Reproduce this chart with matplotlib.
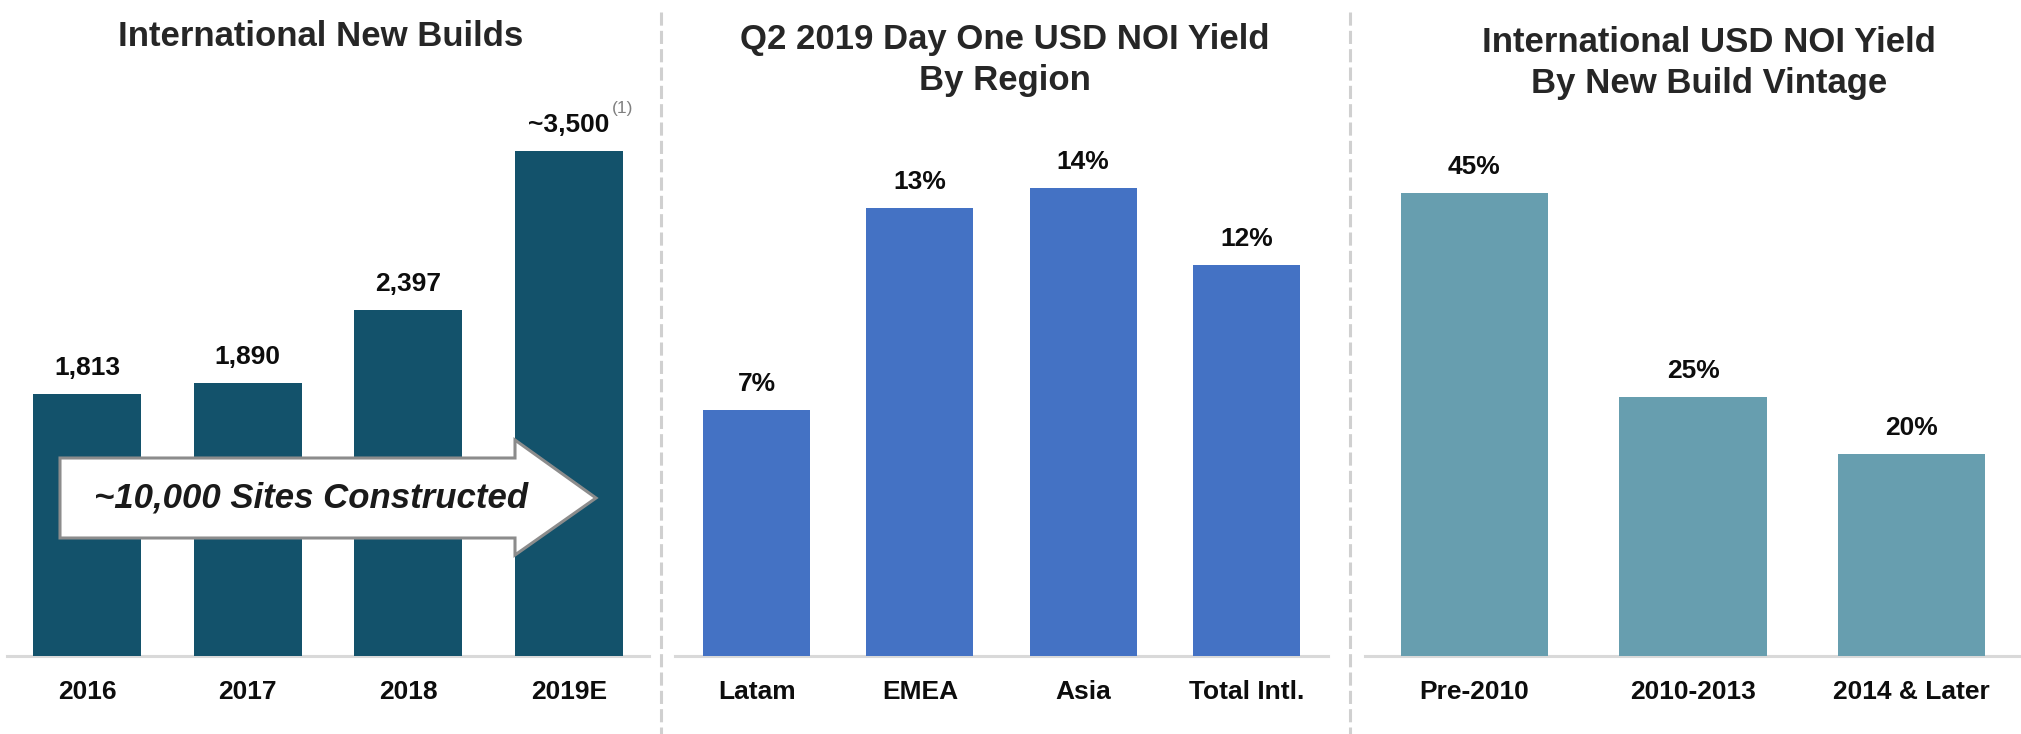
import matplotlib
matplotlib.use("Agg")
import matplotlib.pyplot as plt
from matplotlib.patches import Polygon
from matplotlib.lines import Line2D

plt.rcParams['font.family'] = ['Liberation Sans', 'DejaVu Sans']

# data
years = ["2016", "2017", "2018", "2019E"]
new_builds = [1813, 1890, 2397, 3500]
build_labels = ["1,813", "1,890", "2,397", "~3,500"]

regions = ["Latam", "EMEA", "Asia", "Total Intl."]
region_yield = [7.3, 13.3, 13.9, 11.6]
region_labels = ["7%", "13%", "14%", "12%"]

vintages = ["Pre-2010", "2010-2013", "2014 & Later"]
vintage_yield = [45.0, 25.2, 19.6]
vintage_labels = ["45%", "25%", "20%"]

W, H = 2021, 734
fig = plt.figure(figsize=(W / 100, H / 100), dpi=100)

base_px, top_px = 656, 100


def fx(x):
    return x / W


def fy(y):
    return 1 - y / H


panels = [
    (7, 649, years, new_builds, build_labels, "#13526b", 3850, 0.67),
    (675, 1328, regions, region_yield, region_labels, "#4472c4", 16.5, 0.655),
    (1365, 2021, vintages, vintage_yield, vintage_labels, "#679eaf", 54.0, 0.675),
]

axes = []
for x0, x1, cats, vals, labs, col, ymax, bw in panels:
    ax = fig.add_axes([fx(x0), fy(base_px), (x1 - x0) / W, (base_px - top_px) / H])
    pos = list(range(len(cats)))
    ax.bar(pos, vals, width=bw, color=col, zorder=2)
    ax.set_xlim(-0.5, len(cats) - 0.5)
    ax.set_ylim(0, ymax)
    for s in ["top", "left", "right"]:
        ax.spines[s].set_visible(False)
    ax.spines["bottom"].set_color("#d9d9d9")
    ax.spines["bottom"].set_linewidth(2.2)
    ax.spines["bottom"].set_zorder(1)
    ax.set_yticks([])
    ax.set_xticks(pos, cats)
    ax.tick_params(axis="x", length=0, pad=17, labelsize=19, labelcolor="#0d0d0d")
    for t in ax.get_xticklabels():
        t.set_fontweight("bold")
    for p, v, lab in zip(pos, vals, labs):
        ax.annotate(lab, (p, v), xytext=(0, 19), textcoords="offset pixels",
                    ha="center", va="baseline", fontsize=19, fontweight="bold",
                    color="#0d0d0d")
    ax.patch.set_alpha(0)
    axes.append(ax)

# footnote marker on the estimate
axes[0].annotate("(1)", (3, new_builds[3]), xytext=(43, 42), textcoords="offset pixels",
                 ha="left", va="center", fontsize=12.5, color="#808080")

# titles
title_kw = dict(ha="center", va="center", fontsize=25, fontweight="bold",
                color="#262626", linespacing=1.3)
fig.text(fx(321), fy(37), "International New Builds", **title_kw)
fig.text(fx(1005), fy(60), "Q2 2019 Day One USD NOI Yield\nBy Region", **title_kw)
fig.text(fx(1709), fy(63), "International USD NOI Yield\nBy New Build Vintage", **title_kw)

# dashed separators
for x in [661, 1350]:
    fig.add_artist(Line2D([fx(x), fx(x)], [fy(12), fy(734)], transform=fig.transFigure,
                          color="#d0d0d0", lw=2.2, ls=(0, (4.3, 1.7))))

# block arrow over the first panel
arrow_pts = [(60, 458), (515, 458), (515, 440), (596, 498), (515, 555), (515, 538), (60, 538)]
fig.add_artist(Polygon([(fx(a), fy(b)) for a, b in arrow_pts], closed=True,
                       transform=fig.transFigure, facecolor="white",
                       edgecolor="#8c8c8c", lw=2.2, joinstyle="miter", zorder=5))
fig.text(fx(311), fy(498), "~10,000 Sites Constructed", ha="center", va="center",
         fontsize=25, fontweight="bold", style="italic", color="#1a1a1a", zorder=6)

fig.savefig("out.png", dpi=100)
